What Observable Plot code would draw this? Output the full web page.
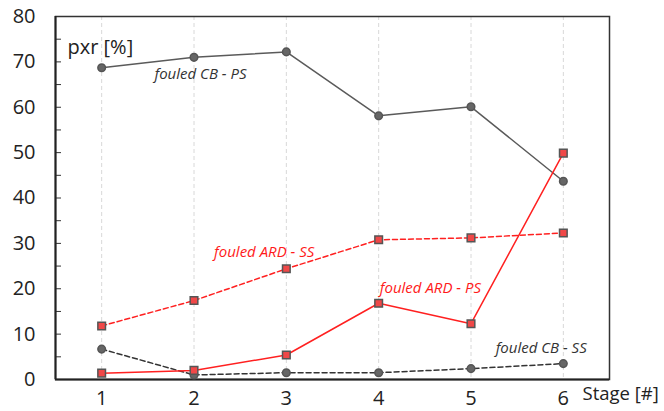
<!DOCTYPE html>
<html><head><meta charset="utf-8">
<script src="https://cdn.jsdelivr.net/npm/d3@7"></script>
<script src="https://cdn.jsdelivr.net/npm/@observablehq/plot@0.6"></script>
<style>body{margin:0;background:#fff}</style>
</head><body><div id="chart"></div>
<script>
const stages = [1, 2, 3, 4, 5, 6];
const cbPS  = [68.7, 71.0, 72.2, 58.1, 60.1, 43.7];
const ardSS = [11.8, 17.4, 24.4, 30.8, 31.2, 32.3];
const ardPS = [1.4, 2.0, 5.4, 16.8, 12.3, 49.9];
const cbSS  = [6.7, 1.0, 1.5, 1.5, 2.4, 3.5];
const yTicks = d3.range(0, 81, 10);
const yMinor = d3.range(5, 80, 10);
const labels = [
  {text: "fouled CB - PS", x: 2.07, y: 67.2, color: "#333"},
  {text: "fouled ARD - SS", x: 2.76, y: 28.0, color: "#ff1a1a"},
  {text: "fouled ARD - PS", x: 4.56, y: 20.1, color: "#ff1a1a"},
  {text: "fouled CB - SS", x: 5.76, y: 6.8, color: "#333"}
];

const mk = (vals) => stages.map((s, i) => ({x: s, y: vals[i]}));
const dCBPS = mk(cbPS), dARDSS = mk(ardSS), dARDPS = mk(ardPS), dCBSS = mk(cbSS);
const grey = "#5a5a5a", red = "#ff2020";

const chart = Plot.plot({
  width: 664, height: 411,
  marginLeft: 55, marginRight: 55, marginTop: 16, marginBottom: 32,
  style: {fontFamily: "'Open Sans', sans-serif", background: "#fff"},
  x: {domain: [0.5, 6.5]},
  y: {domain: [0, 80]},
  marks: [
    Plot.ruleX(stages, {stroke: "#d8d8d8", strokeDasharray: "4,3"}),
    Plot.axisY(yTicks, {tickSize: 0, tickPadding: 20, fontSize: 20, fill: "#222", label: null}),
    Plot.axisY(yTicks, {tickSize: 6, dx: 6, text: null, stroke: "#333", label: null}),
    Plot.axisY(yMinor, {tickSize: 6, dx: 6, text: null, stroke: "#333", label: null}),
    Plot.axisX(stages, {tickSize: 0, tickPadding: 11, fontSize: 20, fill: "#222", label: null, tickFormat: d => d}),
    Plot.frame({stroke: "#333", strokeWidth: 1.5}),
    Plot.ruleY([0], {stroke: "#222", strokeWidth: 2}),
    Plot.ruleX([0.5], {stroke: "#222", strokeWidth: 2}),
    Plot.line(dCBPS, {x: "x", y: "y", stroke: grey, strokeWidth: 1.5}),
    Plot.line(dCBSS, {x: "x", y: "y", stroke: "#333", strokeWidth: 1.5, strokeDasharray: "5,3"}),
    Plot.line(dARDSS, {x: "x", y: "y", stroke: red, strokeWidth: 1.5, strokeDasharray: "5,3"}),
    Plot.line(dARDPS, {x: "x", y: "y", stroke: red, strokeWidth: 1.5}),
    Plot.dot(dCBPS, {x: "x", y: "y", r: 3.8, fill: "#666", stroke: "#555"}),
    Plot.dot(dCBSS, {x: "x", y: "y", r: 3.8, fill: "#666", stroke: "#555"}),
    Plot.dot(dARDSS, {x: "x", y: "y", symbol: "square", r: 4.3, fill: "#f04848", stroke: "#555", strokeWidth: 1.5}),
    Plot.dot(dARDPS, {x: "x", y: "y", symbol: "square", r: 4.3, fill: "#f04848", stroke: "#555", strokeWidth: 1.5}),
    Plot.text(labels, {x: "x", y: "y", text: "text", fill: "color", fontSize: 15, fontStyle: "italic"}),
    Plot.text(["pxr [%]"], {frameAnchor: "top-left", dx: 12, dy: 23, textAnchor: "start", fontSize: 20, fill: "#222"}),
    Plot.text(["Stage [#]"], {frameAnchor: "bottom-right", dx: -27, dy: 20, textAnchor: "start", fontSize: 18.5, fill: "#222"})
  ]
});
document.getElementById("chart").append(chart);
</script>
</body></html>
